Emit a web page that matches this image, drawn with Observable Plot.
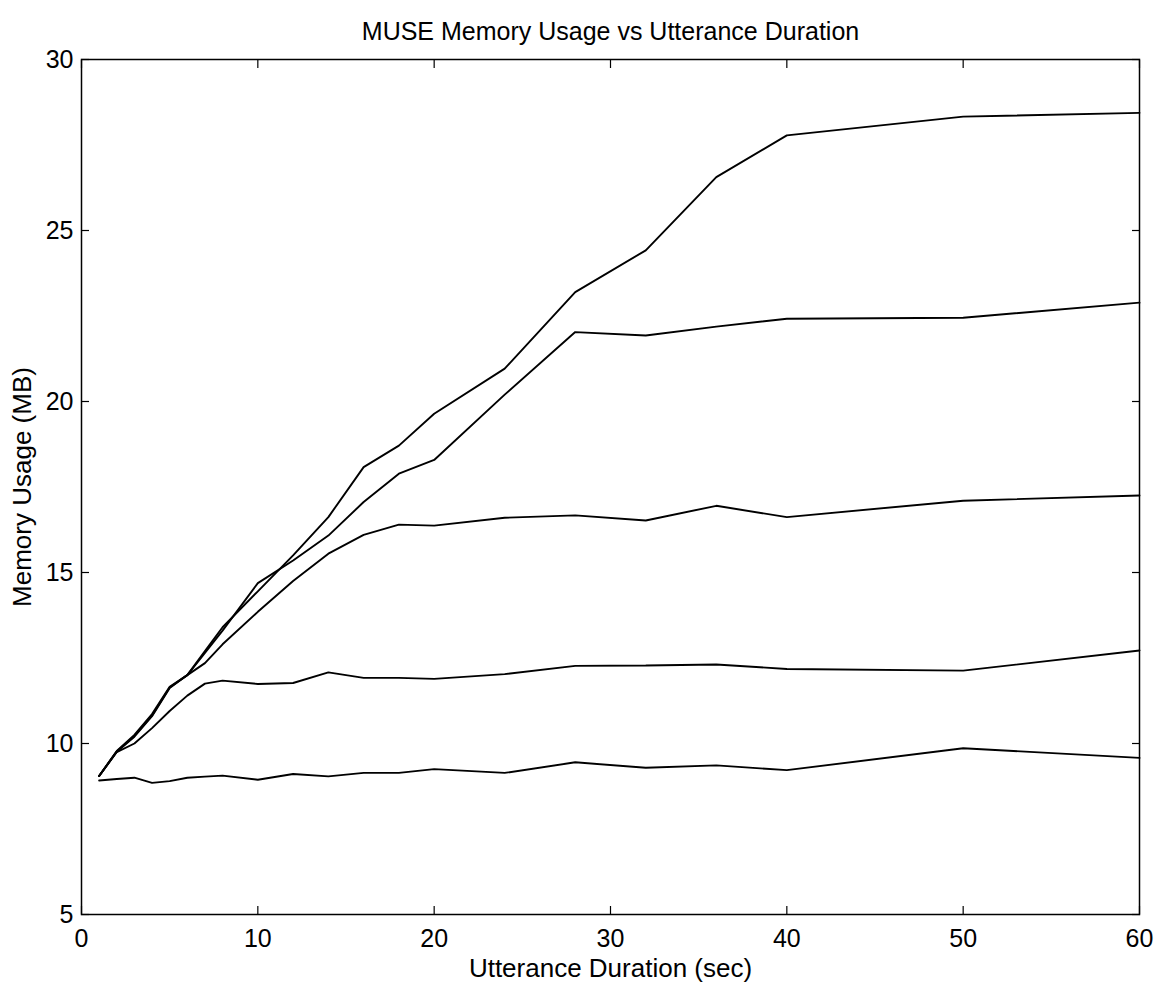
<!DOCTYPE html>
<html>
<head>
<meta charset="utf-8">
<script src="https://cdn.jsdelivr.net/npm/d3@7"></script>
<script src="https://cdn.jsdelivr.net/npm/@observablehq/plot@0.6"></script>
<style>
  html, body { margin: 0; padding: 0; background: #fff; }
  #chart svg { display: block; }
</style>
</head>
<body>
<div id="chart"></div>
<script>
// Utterance durations (sec)
const durations = [1, 2, 3, 4, 5, 6, 7, 8, 10, 12, 14, 16, 18, 20, 24, 28, 32, 36, 40, 50, 60];

// Memory usage (MB) for five runs
const series1 = [8.92, 8.96, 9.00, 8.85, 8.90, 9.00, 9.03, 9.06, 8.94, 9.11, 9.04, 9.14, 9.14, 9.25, 9.14, 9.45, 9.29, 9.36, 9.22, 9.86, 9.58];
const series2 = [9.05, 9.75, 10.00, 10.45, 10.95, 11.40, 11.75, 11.84, 11.74, 11.77, 12.08, 11.92, 11.92, 11.89, 12.03, 12.27, 12.28, 12.31, 12.18, 12.13, 12.72];
const series3 = [9.05, 9.76, 10.20, 10.80, 11.62, 12.00, 12.35, 12.90, 13.85, 14.75, 15.55, 16.10, 16.40, 16.37, 16.60, 16.67, 16.52, 16.95, 16.62, 17.10, 17.25];
const series4 = [9.05, 9.77, 10.22, 10.82, 11.64, 12.00, 12.65, 13.30, 14.69, 15.35, 16.08, 17.06, 17.89, 18.29, 20.20, 22.03, 21.93, 22.19, 22.42, 22.45, 22.89];
const series5 = [9.05, 9.78, 10.25, 10.86, 11.66, 12.00, 12.70, 13.40, 14.45, 15.50, 16.62, 18.08, 18.71, 19.64, 20.96, 23.20, 24.42, 26.56, 27.78, 28.33, 28.44];

const xTicks = [0, 10, 20, 30, 40, 50, 60];
const yTicks = [5, 10, 15, 20, 25, 30];

const titleText = "MUSE Memory Usage vs Utterance Duration";
const xLabel = "Utterance Duration (sec)";
const yLabel = "Memory Usage (MB)";

const allSeries = [series1, series2, series3, series4, series5];
const rows = allSeries.flatMap((s, i) => durations.map((d, j) => ({run: i + 1, duration: d, mem: s[j]})));

const font = "'Liberation Sans', Arial, Helvetica, sans-serif";
const noLabel = () => "";

const chart = Plot.plot({
  width: 1160,
  height: 988,
  marginLeft: 81,
  marginRight: 21,
  marginTop: 59,
  marginBottom: 74,
  style: {fontFamily: font, color: "black", background: "white"},
  x: {domain: [0, 60], ticks: xTicks},
  y: {domain: [5, 30], ticks: yTicks},
  marks: [
    // inward ticks on all four sides
    Plot.axisX(xTicks, {anchor: "bottom", tickSize: 8, dy: -8, tickFormat: noLabel, label: null, stroke: "black", strokeWidth: 1.2}),
    Plot.axisX(xTicks, {anchor: "top", tickSize: 8, dy: 8, tickFormat: noLabel, label: null, stroke: "black", strokeWidth: 1.2}),
    Plot.axisY(yTicks, {anchor: "left", tickSize: 8, dx: 8, tickFormat: noLabel, label: null, stroke: "black", strokeWidth: 1.2}),
    Plot.axisY(yTicks, {anchor: "right", tickSize: 8, dx: -8, tickFormat: noLabel, label: null, stroke: "black", strokeWidth: 1.2}),
    // tick labels
    Plot.axisX(xTicks, {anchor: "bottom", tickSize: 0, tickPadding: 15, label: null, fontSize: 25, fill: "black"}),
    Plot.axisY(yTicks, {anchor: "left", tickSize: 0, tickPadding: 8, label: null, fontSize: 25, fill: "black"}),
    Plot.frame({stroke: "black", strokeWidth: 1.5}),
    Plot.line(rows, {x: "duration", y: "mem", z: "run", stroke: "black", strokeWidth: 1.9, strokeLinejoin: "miter"}),
    // title and axis labels
    Plot.text([titleText], {frameAnchor: "top", dy: -37, fontSize: 25, fill: "black", textAnchor: "middle"}),
    Plot.text([xLabel], {frameAnchor: "bottom", dy: 62, fontSize: 26, fill: "black", textAnchor: "middle"}),
    Plot.text([yLabel], {frameAnchor: "left", dx: -59, rotate: -90, fontSize: 26, fill: "black", textAnchor: "middle"})
  ]
});

document.getElementById("chart").appendChild(chart);
</script>
</body>
</html>
